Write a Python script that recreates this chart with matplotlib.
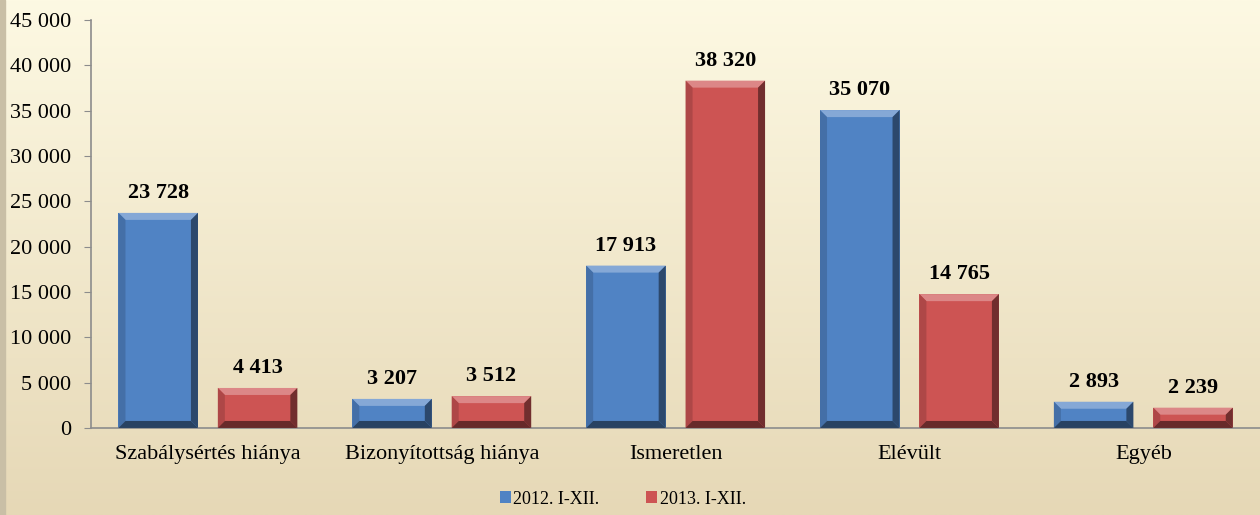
import numpy as np
import matplotlib.pyplot as plt
from matplotlib.patches import Polygon
from matplotlib.colors import to_rgb

categories = ['Szabálysértés hiánya', 'Bizonyítottság hiánya', 'Ismeretlen', 'Elévült', 'Egyéb']
values_2012 = [23728, 3207, 17913, 35070, 2893]
values_2013 = [4413, 3512, 38320, 14765, 2239]
series_names = ['2012. I-XII.', '2013. I-XII.']
colors = ['#5083C4', '#CD5453']


def fmt(v):
    return '{:,}'.format(int(v)).replace(',', ' ')


def shade(c, f):
    r = np.array(to_rgb(c))
    if f > 1:
        return tuple(r + (1 - r) * (f - 1))
    return tuple(r * f)


def bevel(ax, bar, color, px=7):
    # beveled edges drawn in data coords, bevel size given in pixels
    x0, y0 = bar.get_x(), bar.get_y()
    w, h = bar.get_width(), bar.get_height()
    inv = ax.transData.inverted()
    p0 = inv.transform((0, 0))
    p1 = inv.transform((px, px))
    dx, dy = p1[0] - p0[0], p1[1] - p0[1]
    dy = min(dy, h / 2.5)
    x1, y1 = x0 + w, y0 + h
    faces = [
        ([(x0, y1), (x1, y1), (x1 - dx, y1 - dy), (x0 + dx, y1 - dy)], 1.3),
        ([(x0, y0), (x0, y1), (x0 + dx, y1 - dy), (x0 + dx, y0 + dy)], 0.85),
        ([(x1, y0), (x1, y1), (x1 - dx, y1 - dy), (x1 - dx, y0 + dy)], 0.55),
        ([(x0, y0), (x1, y0), (x1 - dx, y0 + dy), (x0 + dx, y0 + dy)], 0.5),
    ]
    for pts, f in faces:
        ax.add_patch(Polygon(pts, closed=True, facecolor=shade(color, f),
                             edgecolor='none', zorder=3))


plt.rcParams['font.family'] = ['Liberation Serif', 'DejaVu Serif']
fig = plt.figure(figsize=(12.6, 5.15), dpi=100)

# background gradient
bg = fig.add_axes([0, 0, 1, 1], zorder=-10)
grad = np.linspace(0, 1, 256)[:, None]
top = np.array(to_rgb('#FDF9E3'))
bot = np.array(to_rgb('#E6D8B6'))
img = top[None, None, :] * (1 - grad[..., None]) + bot[None, None, :] * grad[..., None]
img = np.repeat(img, 2, axis=1)
bg.imshow(img, aspect='auto', extent=[0, 1, 0, 1])
bg.axvspan(0, 0.004, color='#C9BFA6')
bg.set_xlim(0, 1)
bg.set_ylim(0, 1)
bg.axis('off')

ax = fig.add_axes([0.0722, 0.169, 0.928, 0.792])
ax.set_facecolor('none')
x = np.arange(len(categories))
w = 0.34
gap = 0.085
bars1 = ax.bar(x - (w + gap) / 2, values_2012, w, color=colors[0], zorder=2, label=series_names[0])
bars2 = ax.bar(x + (w + gap) / 2, values_2013, w, color=colors[1], zorder=2, label=series_names[1])

ax.set_xlim(-0.5, len(categories) - 0.5)
ax.set_ylim(0, 45000)
ax.set_yticks(np.arange(0, 45001, 5000))
ax.set_yticklabels([fmt(t) for t in np.arange(0, 45001, 5000)], fontsize=16)
ax.set_xticks(x)
ax.set_xticklabels(categories, fontsize=16)
ax.tick_params(axis='x', length=0, pad=12)
ax.tick_params(axis='y', length=5, color='#8C8C8C', pad=9)
for s in ['top', 'right']:
    ax.spines[s].set_visible(False)
ax.spines['left'].set_color('#8C8C8C')
ax.spines['bottom'].set_color('#8C8C8C')
ax.spines['left'].set_linewidth(1.2)
ax.spines['bottom'].set_linewidth(1.2)

fig.canvas.draw()
for bars, c in [(bars1, colors[0]), (bars2, colors[1])]:
    for b in bars:
        bevel(ax, b, c)
        ax.annotate(fmt(b.get_height()), (b.get_x() + b.get_width() / 2, b.get_height()),
                    xytext=(0, 7), textcoords='offset points', ha='center', va='bottom',
                    fontsize=16, fontweight='bold')

leg = ax.legend(loc='lower center', bbox_to_anchor=(0.455, -0.235), ncol=2, frameon=False,
                fontsize=13, handlelength=0.6, handleheight=0.6, handletextpad=0.15,
                columnspacing=2.6)

fig.savefig('out.png', dpi=100)
